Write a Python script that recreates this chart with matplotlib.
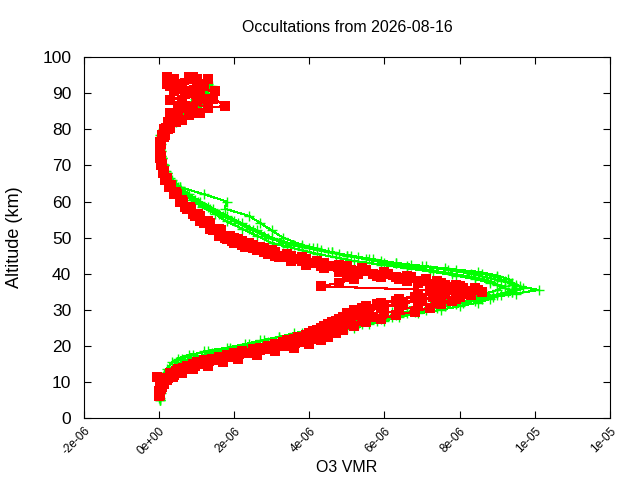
import numpy as np
import matplotlib
matplotlib.use('Agg')
from matplotlib import pyplot as plt
from matplotlib.ticker import MultipleLocator, FuncFormatter

plt.rcParams['font.family'] = ['Liberation Sans', 'DejaVu Sans']

# O3 VMR profiles, values in units of 1e-6
ALT_A = [5, 7, 9, 11, 13, 15, 16, 17, 18, 19, 20, 21, 22, 23, 24, 25, 26, 27, 28, 29,
         30, 31, 32, 33, 34, 35, 36, 37, 38, 39, 40, 41, 42, 43, 44, 45, 46, 47, 48,
         50, 52, 54, 56, 58, 60, 62, 64, 66, 68, 70, 72, 74, 76, 78, 80, 82, 84, 86, 88, 90, 92]
ALT_B = [a + 0.5 for a in ALT_A]

green_1 = [0.02, 0.03, 0.05, 0.1, 0.3, 0.5, 0.7, 1.0, 1.4, 1.9, 2.5, 2.9, 3.4, 3.9, 4.4, 4.8,
           5.2, 5.6, 6.0, 6.4, 6.9, 7.4, 7.9, 8.4, 8.9, 9.3, 9.5, 9.4, 9.2, 9.0, 8.6, 7.9,
           7.1, 6.3, 5.6, 5.0, 4.5, 4.0, 3.5, 2.9, 2.5, 2.1, 1.7, 1.35, 1.05, 0.75, 0.5,
           0.3, 0.2, 0.12, 0.07, 0.04, 0.03, 0.05, 0.1, 0.35, 0.6, 0.9, 1.1, 1.2, 1.4]
green_2 = [0.02, 0.04, 0.06, 0.15, 0.35, 0.45, 0.6, 0.9, 1.2, 1.8, 2.3, 2.7, 3.2, 3.8, 4.4,
           4.9, 5.4, 5.9, 6.3, 6.8, 7.4, 7.9, 8.4, 8.9, 9.5, 10.1, 9.6, 9.4, 9.3, 9.0, 8.5,
           7.6, 6.7, 5.9, 5.3, 4.8, 4.3, 3.8, 3.3, 2.8, 2.4, 2.0, 1.6, 1.3, 0.95, 0.65,
           0.45, 0.28, 0.18, 0.1, 0.06, 0.04, 0.02, 0.04, 0.15, 0.4, 0.7, 1.0, 1.2, 1.3, 1.1]
green_3 = [0.03, 0.05, 0.08, 0.15, 0.45, 0.7, 0.9, 1.3, 1.9, 2.4, 2.9, 3.3, 3.7, 4.2, 4.7,
           5.2, 5.6, 6.0, 6.4, 6.9, 7.5, 8.0, 8.5, 8.8, 9.1, 9.4, 9.2, 9.0, 8.8, 8.4, 7.8,
           7.2, 6.6, 6.0, 5.5, 5.0, 4.6, 4.2, 3.8, 3.3, 3.0, 2.7, 2.4, 1.75, 1.8, 1.2,
           0.55, 0.35, 0.22, 0.14, 0.09, 0.06, 0.05, 0.08, 0.2, 0.45, 0.7, 1.1, 1.3, 1.25, 1.35]
green_4 = [0.01, 0.02, 0.04, 0.08, 0.2, 0.35, 0.5, 0.8, 1.3, 1.9, 2.4, 2.8, 3.2, 3.6, 4.1,
           4.5, 5.0, 5.4, 5.8, 6.2, 6.6, 7.1, 7.6, 8.2, 8.7, 9.0, 9.2, 8.8, 8.4, 7.9, 7.3,
           6.6, 5.9, 5.2, 4.7, 4.2, 3.8, 3.4, 3.0, 2.6, 2.2, 1.8, 1.5, 1.15, 0.85, 0.6,
           0.38, 0.24, 0.15, 0.09, 0.05, 0.03, 0.03, 0.06, 0.12, 0.3, 0.55, 0.75, 0.95, 1.15, 1.3]
green_5 = [0.02, 0.04, 0.07, 0.12, 0.25, 0.6, 0.8, 1.15, 1.6, 2.1, 2.6, 3.1, 3.5, 4.0, 4.5,
           5.0, 5.4, 5.8, 6.2, 6.6, 7.1, 7.6, 8.1, 8.6, 9.0, 9.4, 9.7, 9.5, 9.1, 8.7, 8.3,
           7.7, 7.0, 6.3, 5.7, 5.1, 4.6, 4.1, 3.6, 3.0, 2.6, 2.2, 1.8, 1.45, 1.1, 0.8,
           0.55, 0.33, 0.2, 0.12, 0.07, 0.05, 0.04, 0.07, 0.15, 0.4, 0.65, 0.85, 1.0, 1.15, 1.25]

R_ALT_A = list(range(6, 51)) + list(range(52, 95, 2))
R_ALT_B = [a + 0.5 for a in R_ALT_A]

red_1 = [0.0, 0.02, 0.04, 0.06, 0.1, 0.2, 0.35, 0.55, 0.8, 1.1, 1.5, 1.9, 2.3, 2.8, 3.2,
         3.6, 3.9, 4.1, 4.3, 4.5, 4.7, 4.9, 5.1, 5.3, 5.6, 6.0, 6.5, 7.0, 7.5, 7.9, 8.1,
         7.6, 7.0, 6.3, 5.7, 5.1, 4.6, 4.1, 3.7, 3.3, 2.9, 2.6, 2.3, 2.0, 1.8,
         1.5, 1.25, 1.0, 0.8, 0.6, 0.45, 0.3, 0.2, 0.12, 0.08, 0.05, 0.03, 0.04, 0.1,
         0.15, 0.3, 0.5, 0.9, 1.0, 0.7, 1.2, 0.4]
red_2 = [0.01, 0.03, 0.05, 0.08, 0.15, 0.3, 0.45, 0.7, 0.95, 1.3, 1.7, 2.1, 2.5, 3.0, 3.5,
         3.8, 4.1, 4.3, 4.4, 4.6, 4.8, 5.0, 5.2, 5.5, 5.9, 6.4, 6.9, 7.3, 7.6, 7.2, 4.3,
         4.8, 5.2, 5.0, 4.8, 4.4, 3.9, 3.5, 3.2, 2.9, 2.6, 2.3, 2.0, 1.8, 1.6,
         1.35, 1.1, 0.9, 0.7, 0.55, 0.4, 0.28, 0.18, 0.1, 0.06, 0.04, 0.02, 0.05, 0.12,
         0.2, 0.4, 0.3, 1.75, 1.45, 0.9, 0.6, 0.9]
red_3 = [0.01, 0.03, 0.05, 0.08, 0.12, 0.25, 0.4, 0.6, 0.9, 1.25, 1.6, 2.0, 2.5, 3.0, 3.4,
         3.8, 4.2, 4.5, 4.7, 4.9, 5.1, 5.4, 5.7, 6.0, 6.4, 6.9, 7.4, 7.9, 8.3, 8.6, 8.4,
         7.9, 7.4, 6.7, 6.1, 5.5, 5.0, 4.4, 3.9, 3.5, 3.1, 2.8, 2.5, 2.2, 2.0,
         1.65, 1.35, 1.1, 0.85, 0.65, 0.48, 0.33, 0.22, 0.14, 0.09, 0.06, 0.04, 0.05, 0.12,
         0.25, 0.45, 0.8, 1.3, 0.6, 1.1, 0.3, 1.0]
red_4 = [0.0, 0.01, 0.03, 0.05, 0.08, -0.05, 0.3, 0.5, 0.75, 1.0, 1.4, 1.8, 2.2, 2.7, 3.1,
         3.4, 3.7, 4.0, 4.2, 4.4, 4.6, 4.8, 5.0, 5.2, 5.4, 5.8, 6.3, 6.8, 7.3, 7.8, 7.5,
         6.9, 6.4, 5.8, 5.3, 4.8, 4.3, 3.8, 3.4, 3.1, 2.7, 2.4, 2.1, 1.9, 1.7,
         1.4, 1.15, 0.95, 0.75, 0.58, 0.42, 0.3, 0.2, 0.13, 0.07, 0.04, 0.03, 0.06, 0.15,
         0.3, 0.6, 1.1, 0.5, 1.3, 1.5, 0.2, 0.8]
red_5 = [0.02, 0.04, 0.07, 0.12, 0.22, 0.38, 0.6, 0.9, 1.3, 1.7, 2.1, 2.6, 3.1, 3.6, 4.0,
         4.3, 4.5, 4.7, 4.9, 5.2, 5.5, 5.9, 6.3, 6.8, 7.2, 7.5, 7.8, 8.0, 8.2, 8.5, 8.0,
         7.5, 7.1, 6.6, 6.0, 5.4, 4.8, 4.2, 3.8, 3.4, 3.0, 2.7, 2.4, 2.1, 1.9,
         1.6, 1.3, 1.05, 0.82, 0.62, 0.46, 0.32, 0.21, 0.13, 0.08, 0.05, 0.03, 0.03, 0.08,
         0.18, 0.35, 0.9, 0.7, 1.25, 0.4, 1.0, 0.2]
red_6 = [0.0, 0.01, 0.02, 0.04, 0.07, 0.15, 0.28, 0.45, 0.65, 0.9, 1.2, 1.6, 2.0, 2.5, 2.9,
         3.3, 3.6, 3.9, 4.1, 4.3, 4.5, 4.7, 4.9, 5.0, 5.2, 5.5, 5.9, 6.4, 6.9, 7.4, 7.7,
         7.3, 6.6, 5.9, 5.3, 4.8, 4.3, 3.9, 3.5, 3.1, 2.8, 2.5, 2.2, 1.95, 1.75,
         1.45, 1.2, 0.95, 0.75, 0.55, 0.4, 0.27, 0.17, 0.1, 0.06, 0.03, 0.02, 0.03, 0.07,
         0.12, 0.25, 0.4, 0.6, 0.3, 0.85, 0.5, 1.3]

green_profiles = [(ALT_A, green_1), (ALT_B, green_2), (ALT_A, green_3),
                  (ALT_B, green_4), (ALT_A, green_5)]
red_profiles = [(R_ALT_A, red_1), (R_ALT_B, red_2), (R_ALT_A, red_3),
                (R_ALT_B, red_4), (R_ALT_B, red_5), (R_ALT_A, red_6)]

fig = plt.figure(figsize=(6.4, 4.8), dpi=100)
ax = fig.add_axes([0.131, 0.129, 0.822, 0.752])

for alt, vmr in green_profiles:
    ax.plot(np.array(vmr) * 1e-6, alt, color='#00ff00', lw=0.8, marker='+',
            ms=6.5, mew=1.0, antialiased=False)
for alt, vmr in red_profiles:
    ax.plot(np.array(vmr) * 1e-6, alt, color='#ff0000', lw=0.8, marker='s',
            ms=7, mew=0, antialiased=False)

ax.set_xlim(-2e-6, 1.2e-5)
ax.set_ylim(0, 100)
ax.xaxis.set_major_locator(MultipleLocator(2e-6))
ax.yaxis.set_major_locator(MultipleLocator(10))
ax.xaxis.set_major_formatter(FuncFormatter(lambda v, p: '%.0e' % v))
ax.tick_params(direction='in', length=5, top=True, right=True)
ax.tick_params(axis='y', labelsize=12.5, pad=9)
ax.tick_params(axis='x', labelsize=8.5, pad=5)
for lbl in ax.get_xticklabels():
    lbl.set_rotation(45)
    lbl.set_ha('right')
    lbl.set_va('top')
    lbl.set_rotation_mode('anchor')

ax.set_xlabel('O3 VMR', fontsize=11.5, labelpad=2)
ax.set_ylabel('Altitude (km)', fontsize=13, labelpad=14)
ax.set_title('Occultations from 2026-08-16', fontsize=11.5, pad=18)

fig.savefig('out.png', dpi=100)
